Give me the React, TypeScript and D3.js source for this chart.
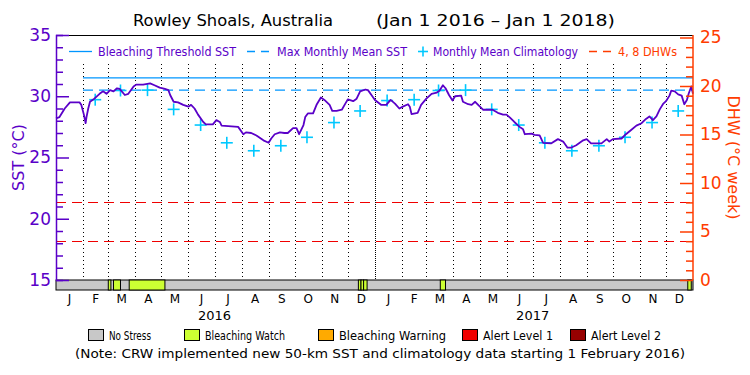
import React, { useEffect, useRef } from 'react';
import * as d3 from 'd3';

// SST (date, deg C)
const sstDates = [
  '2016-01-01', '2016-01-05', '2016-01-11', '2016-01-17', '2016-01-28', '2016-01-30', '2016-02-02', '2016-02-04',
  '2016-02-05', '2016-02-07', '2016-02-09', '2016-02-14', '2016-02-20', '2016-02-24', '2016-02-28', '2016-03-03',
  '2016-03-07', '2016-03-11', '2016-03-14', '2016-03-20', '2016-03-24', '2016-03-30', '2016-04-02', '2016-04-10',
  '2016-04-18', '2016-04-23', '2016-04-29', '2016-05-05', '2016-05-09', '2016-05-11', '2016-05-15', '2016-05-20',
  '2016-05-26', '2016-06-01', '2016-06-04', '2016-06-08', '2016-06-12', '2016-06-18', '2016-06-21', '2016-06-29',
  '2016-07-03', '2016-07-07', '2016-07-09', '2016-07-28', '2016-08-03', '2016-08-06', '2016-08-12', '2016-08-18',
  '2016-08-26', '2016-09-01', '2016-09-04', '2016-09-08', '2016-09-14', '2016-09-19', '2016-09-23', '2016-09-29',
  '2016-10-03', '2016-10-06', '2016-10-11', '2016-10-13', '2016-10-16', '2016-10-22', '2016-10-26', '2016-10-31',
  '2016-11-04', '2016-11-10', '2016-11-13', '2016-11-18', '2016-11-24', '2016-11-28', '2016-12-01', '2016-12-07',
  '2016-12-11', '2016-12-15', '2016-12-21', '2016-12-24', '2016-12-29', '2017-01-01', '2017-01-08', '2017-01-14',
  '2017-01-19', '2017-01-24', '2017-01-29', '2017-02-02', '2017-02-08', '2017-02-10', '2017-02-12', '2017-02-19',
  '2017-02-23', '2017-03-01', '2017-03-07', '2017-03-13', '2017-03-16', '2017-03-20', '2017-03-23', '2017-03-27',
  '2017-03-31', '2017-04-03', '2017-04-10', '2017-04-12', '2017-04-18', '2017-04-22', '2017-04-26', '2017-04-30',
  '2017-05-05', '2017-05-11', '2017-05-16', '2017-05-22', '2017-05-28', '2017-06-01', '2017-06-05', '2017-06-10',
  '2017-06-16', '2017-06-20', '2017-06-22', '2017-06-30', '2017-07-03', '2017-07-09', '2017-07-13', '2017-07-22',
  '2017-07-30', '2017-08-05', '2017-08-10', '2017-08-14', '2017-08-20', '2017-08-28', '2017-09-01', '2017-09-06',
  '2017-09-18', '2017-09-24', '2017-09-27', '2017-10-01', '2017-10-11', '2017-10-16', '2017-10-22', '2017-10-28',
  '2017-11-03', '2017-11-08', '2017-11-12', '2017-11-16', '2017-11-20', '2017-11-24', '2017-11-28', '2017-12-01',
  '2017-12-05', '2017-12-07', '2017-12-11', '2017-12-15', '2017-12-19', '2017-12-22', '2017-12-25', '2017-12-27',
  '2017-12-30', '2018-01-01',
];
const sstValues = [
  28.2, 28.3, 29.0, 29.5, 29.5, 29.3, 28.5, 27.8,
  28.3, 29.0, 29.55, 29.8, 30.2, 30.4, 30.2, 30.5,
  30.4, 30.65, 30.6, 30.1, 30.2, 30.8, 30.95, 30.95,
  31.05, 30.9, 30.7, 30.6, 30.5, 30.1, 29.55, 29.5,
  29.3, 29.15, 29.3, 29.0, 28.5, 27.9, 27.7, 27.7,
  28.05, 27.9, 27.6, 27.5, 26.9, 27.05, 27.0, 26.8,
  26.4, 26.2, 26.55, 26.9, 27.05, 27.0, 27.0, 27.4,
  27.4, 26.9, 27.65, 28.3, 28.6, 28.6, 29.3, 29.9,
  29.7, 29.3, 28.8, 28.8, 28.9, 29.4, 29.75, 29.6,
  29.8, 30.4, 30.55, 30.5, 30.0, 29.7, 29.3, 29.3,
  29.7, 29.4, 29.0, 29.15, 29.35, 29.15, 28.55, 28.65,
  29.3, 29.8, 30.2, 30.3, 30.45, 30.9, 30.65, 30.1,
  29.65, 30.0, 30.05, 29.55, 29.35, 29.3, 29.55, 29.25,
  28.9, 28.9, 28.9, 28.65, 28.5, 28.5, 28.25, 27.9,
  27.5, 27.3, 26.9, 26.95, 26.85, 26.8, 26.2, 26.15,
  26.5, 26.3, 25.8, 25.8, 26.0, 26.4, 26.5, 26.15,
  26.15, 26.5, 26.3, 26.5, 26.55, 26.9, 27.25, 27.6,
  27.8, 28.15, 28.35, 28.05, 28.35, 28.95, 29.4, 29.6,
  30.05, 30.45, 30.4, 30.15, 30.05, 29.35, 29.7, 30.2,
  30.8, 30.2,
];

// Monthly mean climatology, Jan..Dec
const climMonthNames = ['Jan', 'Feb', 'Mar', 'Apr', 'May', 'Jun', 'Jul', 'Aug', 'Sep', 'Oct', 'Nov', 'Dec'];
const climValues = [29.65, 29.72, 30.47, 30.5, 28.93, 27.65, 26.2, 25.55, 25.96, 26.65, 27.85, 28.8];
const climStart = '2016-02-01';

const bleachingThreshold = 31.5;
const maxMonthlyMean = 30.5;
const dhwLevels = [4, 8];

// Bleaching watch periods on the stress bar
const watchStarts = ['2016-03-01', '2016-03-07', '2016-03-25', '2016-12-13', '2016-12-16', '2016-12-19', '2017-03-17', '2017-12-26'];
const watchEnds = ['2016-03-04', '2016-03-15', '2016-05-05', '2016-12-16', '2016-12-19', '2016-12-23', '2017-03-23', '2017-12-30'];

const sstTicks = [15, 20, 25, 30, 35];
const dhwTicks = [0, 5, 10, 15, 20, 25];
const yearLabels = ['2016', '2017'];

const stressNames = ['No Stress', 'Bleaching Watch', 'Bleaching Warning', 'Alert Level 1', 'Alert Level 2'];
const stressColors = ['#c8c8c8', '#ccff33', '#ffaa00', '#f00000', '#960000'];

const PURPLE = '#5a00c8';
const ORANGE = '#ff3c00';
const FONT = 'DejaVu Sans, sans-serif';

export default function App() {
  const svgRef = useRef<SVGSVGElement>(null);

  useEffect(() => {
    if (!svgRef.current) return;
    draw();
  }, []);

  const draw = () => {
    const svg = d3.select(svgRef.current);
    svg.selectAll('*').remove();

    const parse = d3.timeParse('%Y-%m-%d');
    const left = 56;
    const right = 693;
    const top = 35;
    const bottom = 280;
    const barBottom = 290;

    const x = d3.scaleTime().domain([new Date(2016, 0, 1), new Date(2018, 0, 1)]).range([left, right]);
    const y = d3.scaleLinear().domain([15, 35]).range([bottom, top]);
    const yR = d3.scaleLinear().domain([0, 25]).range([bottom, 37.5]);

    svg.append('rect').attr('width', 750).attr('height', 375).attr('fill', '#fff');

    // Title
    svg.append('text').attr('x', 133).attr('y', 26).style('font-family', FONT).style('font-size', '15px')
      .attr('textLength', 200).attr('lengthAdjust', 'spacingAndGlyphs').text('Rowley Shoals, Australia');
    svg.append('text').attr('x', 376).attr('y', 26).style('font-family', FONT).style('font-size', '15px')
      .attr('textLength', 239).attr('lengthAdjust', 'spacingAndGlyphs').text('(Jan 1 2016 \u2013 Jan 1 2018)');

    // Month grid lines
    const months = d3.timeMonth.range(new Date(2016, 1, 1), new Date(2018, 0, 1));
    svg.append('g').selectAll('line').data(months).enter().append('line')
      .attr('x1', (d) => Math.round(x(d)) + 0.5).attr('x2', (d) => Math.round(x(d)) + 0.5)
      .attr('y1', 64).attr('y2', bottom)
      .attr('stroke', '#000').attr('stroke-width', 1)
      .attr('stroke-dasharray', (d) => (d.getMonth() === 0 ? '1,1' : '1,3'));

    // DHW reference lines
    svg.append('g').selectAll('line').data(dhwLevels).enter().append('line')
      .attr('x1', left).attr('x2', right)
      .attr('y1', (d) => Math.round(yR(d)) + 0.5).attr('y2', (d) => Math.round(yR(d)) + 0.5)
      .attr('stroke', '#f00000').attr('stroke-width', 1).attr('stroke-dasharray', '10,6');

    // Threshold and MMM
    const x0 = x(parse(climStart)!);
    svg.append('line').attr('x1', x0).attr('x2', right)
      .attr('y1', y(bleachingThreshold)).attr('y2', y(bleachingThreshold))
      .attr('stroke', '#0096ff').attr('stroke-width', 1.3);
    svg.append('line').attr('x1', x0).attr('x2', right)
      .attr('y1', y(maxMonthlyMean)).attr('y2', y(maxMonthlyMean))
      .attr('stroke', '#0096ff').attr('stroke-width', 1.3).attr('stroke-dasharray', '10,6');

    // Climatology crosses (mid-month)
    const climMonths = d3.timeMonth.range(parse(climStart)!, new Date(2018, 0, 1));
    const cross = svg.append('g').selectAll('g').data(climMonths).enter().append('g')
      .attr('transform', (d) => `translate(${x(new Date(d.getFullYear(), d.getMonth(), 15))},${y(climValues[d.getMonth()])})`);
    cross.append('line').attr('x1', -6).attr('x2', 6).attr('stroke', '#00c8ff').attr('stroke-width', 1.6);
    cross.append('line').attr('y1', -6).attr('y2', 6).attr('stroke', '#00c8ff').attr('stroke-width', 1.6);

    // SST line
    const sst = sstDates.map((d, i) => ({ date: parse(d)!, value: sstValues[i] }));
    const line = d3.line<any>().x((d) => x(d.date)).y((d) => y(d.value));
    svg.append('path').datum(sst).attr('fill', 'none').attr('stroke', PURPLE)
      .attr('stroke-width', 1.8).attr('stroke-linejoin', 'round').attr('d', line);

    // Stress bar
    svg.append('rect').attr('x', left).attr('y', bottom).attr('width', right - left).attr('height', barBottom - bottom)
      .attr('fill', stressColors[0]).attr('stroke', '#000').attr('stroke-width', 1);
    svg.append('g').selectAll('rect').data(watchStarts).enter().append('rect')
      .attr('x', (d) => x(parse(d)!)).attr('y', bottom)
      .attr('width', (d, i) => x(parse(watchEnds[i])!) - x(parse(d)!)).attr('height', barBottom - bottom)
      .attr('fill', stressColors[1]).attr('stroke', '#000').attr('stroke-width', 1);

    // Frame top
    svg.append('line').attr('x1', left).attr('x2', right).attr('y1', top + 0.5).attr('y2', top + 0.5)
      .attr('stroke', '#000').attr('stroke-width', 1);

    // Left axis
    const yAxis = svg.append('g').attr('transform', `translate(${left},0)`)
      .call(d3.axisRight(y).tickValues(d3.range(15, 36, 1)).tickSize(7).tickFormat(() => ''));
    yAxis.select('.domain').attr('stroke', PURPLE).attr('stroke-width', 1.5);
    yAxis.selectAll('line').attr('stroke', PURPLE).attr('stroke-width', 1.5)
      .attr('x2', (d: any) => (d % 5 === 0 ? 13 : 7));
    svg.append('g').selectAll('text').data(sstTicks).enter().append('text')
      .attr('x', 51).attr('y', (d) => y(d)).attr('dy', '0.35em').attr('text-anchor', 'end')
      .style('font-family', FONT).style('font-size', '17px').style('fill', PURPLE).text((d) => d);
    svg.append('text').attr('transform', `translate(24,${(top + bottom) / 2}) rotate(-90)`)
      .attr('text-anchor', 'middle').style('font-family', FONT).style('font-size', '16px').style('fill', PURPLE)
      .text('SST (\u00b0C)');

    // Right axis
    const rAxis = svg.append('g').attr('transform', `translate(${right},0)`)
      .call(d3.axisLeft(yR).tickValues(d3.range(0, 26, 1)).tickSize(7).tickFormat(() => ''));
    rAxis.select('.domain').attr('stroke', ORANGE).attr('stroke-width', 1.5).attr('d', `M0,${bottom}V${top}`);
    rAxis.selectAll('line').attr('stroke', ORANGE).attr('stroke-width', 1.5)
      .attr('x2', (d: any) => (d % 5 === 0 ? -13 : -7));
    svg.append('g').selectAll('text').data(dhwTicks).enter().append('text')
      .attr('x', 700).attr('y', (d) => yR(d)).attr('dy', '0.35em')
      .style('font-family', FONT).style('font-size', '17px').style('fill', ORANGE).text((d) => d);
    svg.append('text').attr('transform', `translate(728,${(top + bottom) / 2}) rotate(90)`)
      .attr('text-anchor', 'middle').style('font-family', FONT).style('font-size', '16px').style('fill', ORANGE)
      .text('DHW (\u00b0C week)');

    // Month labels
    const allMonths = d3.timeMonth.range(new Date(2016, 0, 1), new Date(2018, 0, 1));
    svg.append('g').selectAll('text').data(allMonths).enter().append('text')
      .attr('x', (d) => (x(d) + x(d3.timeMonth.offset(d, 1))) / 2).attr('y', 303)
      .attr('text-anchor', 'middle').style('font-family', FONT).style('font-size', '12px')
      .text((d) => d3.timeFormat('%b')(d)[0]);
    svg.append('g').selectAll('text').data(yearLabels).enter().append('text')
      .attr('x', (d) => x(new Date(+d, 6, 1))).attr('y', 320)
      .attr('text-anchor', 'middle').style('font-family', FONT).style('font-size', '13px')
      .text((d) => d);

    // Top legend
    const ly = 51.5;
    svg.append('line').attr('x1', 69).attr('x2', 92).attr('y1', ly).attr('y2', ly).attr('stroke', '#0096ff').attr('stroke-width', 1.3);
    svg.append('text').attr('x', 98).attr('y', ly + 4).attr('textLength', 138).attr('lengthAdjust', 'spacingAndGlyphs')
      .style('font-family', FONT).style('font-size', '12px').style('fill', PURPLE).text('Bleaching Threshold SST');
    svg.append('line').attr('x1', 247).attr('x2', 270).attr('y1', ly).attr('y2', ly).attr('stroke', '#0096ff')
      .attr('stroke-width', 1.3).attr('stroke-dasharray', '8,6');
    svg.append('text').attr('x', 277).attr('y', ly + 4).attr('textLength', 130).attr('lengthAdjust', 'spacingAndGlyphs')
      .style('font-family', FONT).style('font-size', '12px').style('fill', PURPLE).text('Max Monthly Mean SST');
    svg.append('line').attr('x1', 418).attr('x2', 428).attr('y1', ly).attr('y2', ly).attr('stroke', '#00c8ff').attr('stroke-width', 1.6);
    svg.append('line').attr('x1', 423).attr('x2', 423).attr('y1', ly - 5).attr('y2', ly + 5).attr('stroke', '#00c8ff').attr('stroke-width', 1.6);
    svg.append('text').attr('x', 433).attr('y', ly + 4).attr('textLength', 145).attr('lengthAdjust', 'spacingAndGlyphs')
      .style('font-family', FONT).style('font-size', '12px').style('fill', PURPLE).text('Monthly Mean Climatology');
    svg.append('line').attr('x1', 589).attr('x2', 611).attr('y1', ly).attr('y2', ly).attr('stroke', ORANGE)
      .attr('stroke-width', 1.3).attr('stroke-dasharray', '8,6');
    svg.append('text').attr('x', 618).attr('y', ly + 4).attr('textLength', 59).attr('lengthAdjust', 'spacingAndGlyphs')
      .style('font-family', FONT).style('font-size', '12px').style('fill', ORANGE).text('4, 8 DHWs');

    // Bottom legend
    const boxX = [88, 184, 318, 462, 570];
    const textW = [42, 80, 107, 70, 70];
    stressNames.forEach((name, i) => {
      svg.append('rect').attr('x', boxX[i] + 0.5).attr('y', 329.5).attr('width', 15).attr('height', 11)
        .attr('fill', stressColors[i]).attr('stroke', '#000').attr('stroke-width', 1);
      svg.append('text').attr('x', boxX[i] + 21).attr('y', 340).attr('textLength', textW[i]).attr('lengthAdjust', 'spacingAndGlyphs')
        .style('font-family', FONT).style('font-size', '12px').text(name);
    });
    svg.append('text').attr('x', 75).attr('y', 358).attr('textLength', 610).attr('lengthAdjust', 'spacingAndGlyphs')
      .style('font-family', FONT).style('font-size', '12px')
      .text('(Note: CRW implemented new 50-km SST and climatology data starting 1 February 2016)');
  };

  return (
    <svg ref={svgRef} width={750} height={375} style={{ position: 'absolute', left: 0, top: 0 }}></svg>
  );
}
